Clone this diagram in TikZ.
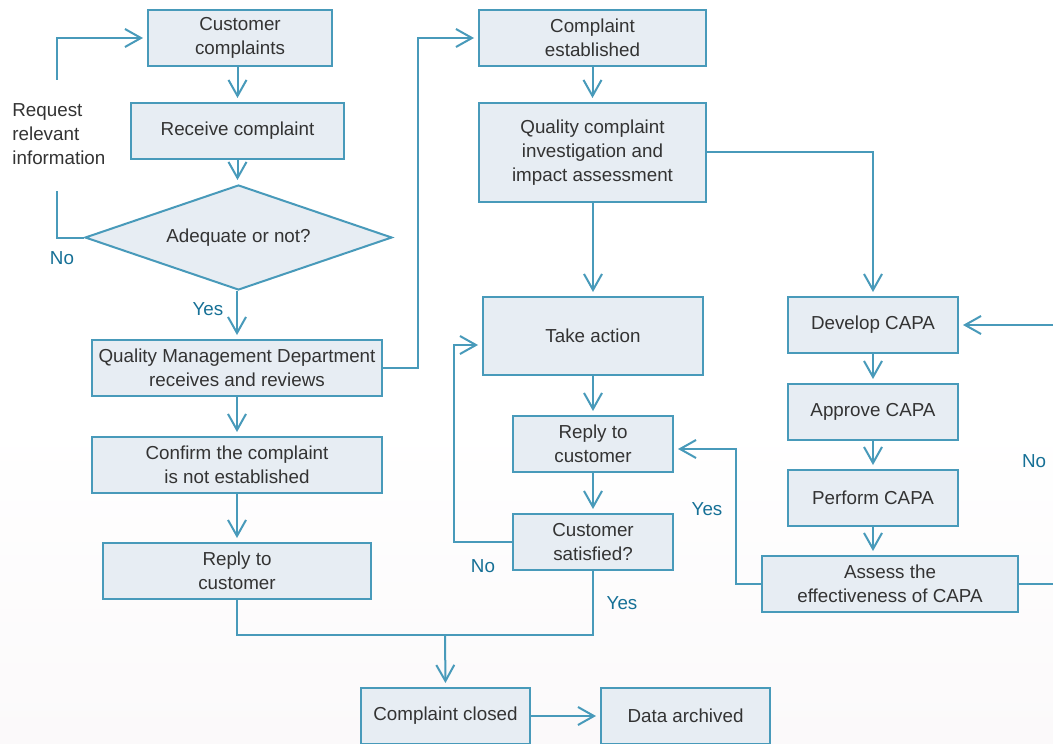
\documentclass[tikz,border=0pt]{standalone}
\usepackage{fontspec}
\setmainfont{Liberation Sans}
\usetikzlibrary{arrows.meta,shapes.geometric}
\definecolor{qline}{RGB}{72,154,186}
\definecolor{qfill}{RGB}{231,237,243}
\definecolor{qtext}{RGB}{51,51,51}
\definecolor{qlabel}{RGB}{22,112,150}
\definecolor{qback}{RGB}{251,249,250}

\begin{document}
\begin{tikzpicture}[x=0.5pt, y=-0.5pt,
  font=\fontsize{9.4pt}{12pt}\selectfont,
  box/.style={draw=qline, fill=qfill, line width=1pt, inner sep=0pt, align=center, text=qtext, minimum height=28pt},
  flow/.style={draw=qline, line width=1pt},
  arr/.style={flow, -{Straight Barb[length=8pt, width=9pt, line width=1pt]}, shorten >=2pt},
  yn/.style={text=qlabel, inner sep=0pt}]
\useasboundingbox (0,0) rectangle (1053,743);
\fill [white] (0,0) rectangle (1053,420);
\shade [top color=white, bottom color=qback] (0,420) rectangle (1053,743);

% left column
\node (cc) at (240,38) [box, minimum width=92pt] {Customer\\complaints};
\node (rc) at (237.5,131) [box, minimum width=106.5pt] {Receive complaint};
\node (adq) at (238.5,237.5) [box, diamond, aspect=3, minimum width=153.5pt, minimum height=52.5pt] {Adequate or not?};
\node (qmd) at (237,368) [box, minimum width=145pt] {Quality Management Department\\receives and reviews};
\node (conf) at (237,465) [box, minimum width=145pt] {Confirm the complaint\\is not established};
\node (rl) at (237,571) [box, minimum width=134pt] {Reply to\\customer};
\node (req) at (12,134) [anchor=west, align=left, text=qtext, inner sep=0pt] {Request\\relevant\\information};

% middle column
\node (ce) at (592.5,38) [box, minimum width=113.5pt] {Complaint\\established};
\node (qci) at (592.5,152.5) [box, minimum width=113.5pt, minimum height=49.5pt] {Quality complaint\\investigation and\\impact assessment};
\node (ta) at (593,336) [box, minimum width=110pt, minimum height=39pt] {Take action};
\node (rm) at (593,444) [box, minimum width=80pt] {Reply to\\customer};
\node (cs) at (593,542) [box, minimum width=80pt] {Customer\\satisfied?};

% right column
\node (dev) at (873,325) [box, minimum width=85pt] {Develop CAPA};
\node (app) at (873,412) [box, minimum width=85pt] {Approve CAPA};
\node (perf) at (873,498) [box, minimum width=85pt] {Perform CAPA};
\node (ass) at (890,584) [box, minimum width=128pt] {Assess the\\effectiveness of CAPA};

% bottom
\node (closed) at (445.5,716) [box, minimum width=84.5pt] {Complaint closed};
\node (arch) at (685.5,716) [box, minimum width=84.5pt] {Data archived};

% yes / no
\node (no1) at (62,258) [yn] {No};
\node (yes1) at (208,309) [yn] {Yes};
\node (no2) at (483,566) [yn] {No};
\node (yes2) at (622,603) [yn] {Yes};
\node (yes3) at (707,509) [yn] {Yes};
\node (no3) at (1034,461) [yn] {No};

\coordinate (reqlo) at (57,191);
\coordinate (reqhi) at (57,80);
\coordinate (mrg) at (445,635);

\draw [arr] (cc.south -| rc.north) -- (rc.north);
\draw [arr] (rc.south) -- (rc.south |- adq.north);
\draw [arr] (adq.south -| qmd.north) -- (qmd.north);
\draw [flow] (adq.west) -| (reqlo);
\draw [arr] (reqhi) |- (cc.west);
\draw [arr] (qmd.east) -- ++(35,0) |- (ce.west);
\draw [arr] (qmd) -- (conf);
\draw [arr] (conf) -- (rl);
\draw [flow] (rl.south) |- (mrg) -| (cs.south);
\draw [arr] (mrg) -- (closed.north);
\draw [arr] (closed) -- (arch);

\draw [arr] (ce) -- (qci);
\draw [arr] (qci.south -| ta.north) -- (ta.north);
\draw [arr] (qci.east) -| (dev.north);
\draw [arr] (ta) -- (rm);
\draw [arr] (rm) -- (cs);
\draw [arr] (cs.west) -- ++(-58,0) |- ([yshift=-4.5pt]ta.west);

\draw [arr] (dev) -- (app);
\draw [arr] (app) -- (perf);
\draw [arr] (perf.south -| ass.north) ++(-17,0) -- ([xshift=-8.5pt]ass.north);
\draw [arr] (ass.west) -- ++(-25,0) |- ([yshift=-2.5pt]rm.east);
\draw [arr] (ass.east) -- ++(45,0) |- (dev.east);
\end{tikzpicture}
\end{document}
